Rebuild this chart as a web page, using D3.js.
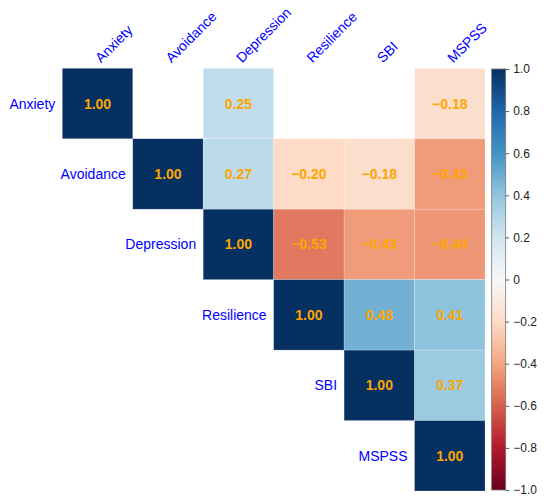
<!DOCTYPE html>
<html>
<head>
<meta charset="utf-8">
<script src="https://cdn.jsdelivr.net/npm/d3@7"></script>
<style>
html,body{margin:0;padding:0;background:#fff;}
svg{display:block;font-family:"Liberation Sans",Arial,sans-serif;}
</style>
</head>
<body>
<svg id="chart" width="550" height="499"></svg>
<script>
const labels = ["Anxiety", "Avoidance", "Depression", "Resilience", "SBI", "MSPSS"];
const rowAnxiety    = [1.00, null, 0.25, null, null, -0.18];
const rowAvoidance  = [null, 1.00, 0.27, -0.20, -0.18, -0.43];
const rowDepression = [null, null, 1.00, -0.53, -0.43, -0.44];
const rowResilience = [null, null, null, 1.00, 0.48, 0.41];
const rowSBI        = [null, null, null, null, 1.00, 0.37];
const rowMSPSS      = [null, null, null, null, null, 1.00];
const matrix = [rowAnxiety, rowAvoidance, rowDepression, rowResilience, rowSBI, rowMSPSS];
const cbTicks = [1.0, 0.8, 0.6, 0.4, 0.2, 0, -0.2, -0.4, -0.6, -0.8, -1.0];
const rdbu = ["#67001f","#b2182b","#d6604d","#f4a582","#fddbc7","#f7f7f7","#d1e5f0","#92c5de","#4393c3","#2166ac","#053061"];

const svg = d3.select("#chart");
const x = d3.scaleBand().domain(labels).range([62.3, 485]);
const y = d3.scaleBand().domain(labels).range([68.3, 491]);
const color = d3.scaleLinear()
  .domain(d3.range(11).map(i => -1 + i * 0.2))
  .range(rdbu)
  .interpolate(d3.interpolateRgb);

const cells = [];
matrix.forEach((row, i) => row.forEach((v, j) => {
  if (v !== null) cells.push({r: labels[i], c: labels[j], v});
}));

const fmt = v => (v < 0 ? "\u2212" : "") + Math.abs(v).toFixed(2);

svg.append("g").selectAll("rect").data(cells).join("rect")
  .attr("x", d => x(d.c)).attr("y", d => y(d.r))
  .attr("width", x.bandwidth()).attr("height", y.bandwidth())
  .attr("fill", d => color(d.v))
  .attr("stroke", "#fff").attr("stroke-opacity", 0.35).attr("stroke-width", 0.6);

svg.append("g").selectAll("text").data(cells).join("text")
  .attr("x", d => x(d.c) + x.bandwidth() / 2)
  .attr("y", d => y(d.r) + y.bandwidth() / 2)
  .attr("text-anchor", "middle").attr("dominant-baseline", "central")
  .attr("font-size", 14).attr("font-weight", "bold").attr("fill", "#ffa500")
  .text(d => fmt(d.v));

// Row labels (left of diagonal)
svg.append("g").selectAll("text").data(labels).join("text")
  .attr("x", d => x(d) - 7)
  .attr("y", d => y(d) + y.bandwidth() / 2)
  .attr("text-anchor", "end").attr("dominant-baseline", "central")
  .attr("font-size", 14).attr("fill", "blue")
  .text(d => d);

// Column labels (top, rotated)
svg.append("g").selectAll("text").data(labels).join("text")
  .attr("transform", d => `translate(${x(d) + x.bandwidth() / 2 + 3.5},63.5) rotate(-45)`)
  .attr("text-anchor", "start")
  .attr("font-size", 14).attr("fill", "blue")
  .text(d => d);

// Colorbar
const cb = d3.scaleLinear().domain([-1, 1]).range([490, 69]);
const defs = svg.append("defs");
const grad = defs.append("linearGradient").attr("id", "cbgrad")
  .attr("x1", 0).attr("y1", 1).attr("x2", 0).attr("y2", 0);
grad.selectAll("stop").data(rdbu).join("stop")
  .attr("offset", (d, i) => i / 10).attr("stop-color", d => d);
const cbx = 491.7, cbw = 14;
svg.append("rect").attr("x", cbx).attr("y", cb(1)).attr("width", cbw)
  .attr("height", cb(-1) - cb(1)).attr("fill", "url(#cbgrad)")
  .attr("stroke", "#777").attr("stroke-width", 0.8);
const cbAxis = d3.axisRight(cb).tickValues(cbTicks).tickSize(3.5).tickPadding(4)
  .tickFormat(v => v === 0 ? "0" : (v < 0 ? "\u2212" : "") + Math.abs(v).toFixed(1));
const ag = svg.append("g").attr("transform", `translate(${cbx + cbw},0)`).call(cbAxis);
ag.select(".domain").remove();
ag.selectAll(".tick line").attr("stroke", "#333").attr("stroke-width", 0.8);
ag.selectAll(".tick text").attr("font-size", 12).attr("fill", "#222")
  .attr("font-family", "'Liberation Sans',Arial,sans-serif");
</script>
</body>
</html>
